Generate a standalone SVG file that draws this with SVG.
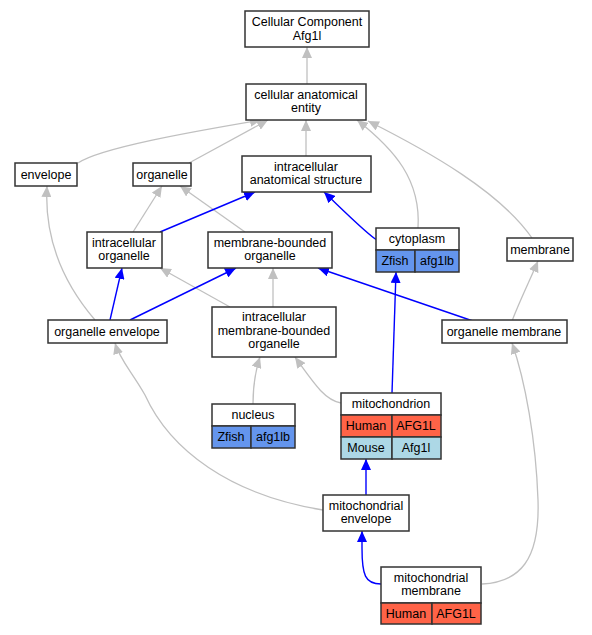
<svg xmlns="http://www.w3.org/2000/svg" width="592" height="635" viewBox="0 0 592 635">
<defs>
<style>
.n rect{fill:#fff;stroke:#333;stroke-width:1.5}
.n rect.z{fill:#6495ED}
.n rect.h{fill:#FF6347}
.n rect.m{fill:#ADD8E6}
text{font-family:"Liberation Sans",Arial,sans-serif;font-size:12.5px;fill:#000;text-anchor:middle}
.g{fill:none;stroke:#c0c0c0;stroke-width:1.3}
.b{fill:none;stroke:#0000ff;stroke-width:1.4}
.g{marker-end:url(#ag)}
.b{marker-end:url(#ab)}
</style>
<marker id="ag" viewBox="0 0 11 10" refX="11" refY="5" markerUnits="userSpaceOnUse" markerWidth="11" markerHeight="10" orient="auto"><path d="M0,0 L11,5 L0,10 z" fill="#c0c0c0"/></marker>
<marker id="ab" viewBox="0 0 11 10" refX="11" refY="5" markerUnits="userSpaceOnUse" markerWidth="11" markerHeight="10" orient="auto"><path d="M0,0 L11,5 L0,10 z" fill="#0000ff"/></marker>
</defs>
<rect width="592" height="635" fill="#fff"/>
<g id="edges">
<path class="g" d="M307,84 L307,47"/>
<path class="g" d="M78,163 C100,148 190,132 261,120"/>
<path class="g" d="M189,163 L268,120"/>
<path class="g" d="M306,156 L306,120"/>
<path class="g" d="M418,228 C421,180 395,150 357,120"/>
<path class="g" d="M532,238 C500,192 430,152 368,121"/>
<path class="g" d="M133,232 L162,186"/>
<path class="g" d="M245,232 L180,186"/>
<path class="g" d="M95,320 C65,285 44,240 47,186"/>
<path class="g" d="M230,307 L160,268"/>
<path class="g" d="M273,307 L273,268"/>
<path class="g" d="M512,321 C520,300 530,280 538,261"/>
<path class="g" d="M253,404 C253,385 255,372 260,357"/>
<path class="g" d="M341,403 C325,400 315,385 295,357"/>
<path class="g" d="M323,510 C230,495 170,450 145,395 C132,372 120,360 115,343"/>
<path class="g" d="M482,584 C520,582 540,560 538,500 C536,440 525,380 512,343"/>
<path class="b" d="M160,232 L255,192"/>
<path class="b" d="M377,240 C368,235 345,212 324,192"/>
<path class="b" d="M110,320 L122,268"/>
<path class="b" d="M130,320 L236,268"/>
<path class="b" d="M473,321 L318,268"/>
<path class="b" d="M392,393 L396,272"/>
<path class="b" d="M366,495 L366,459"/>
<path class="b" d="M381,584 C365,584 362,575 362,548 L362,531"/>
</g>
<g id="n1" class="n"><rect x="245" y="11" width="124" height="36"/><text x="307" y="26">Cellular Component</text><text x="307" y="40">Afg1l</text></g>
<g id="n2" class="n"><rect x="246" y="84" width="120" height="36"/><text x="306" y="99">cellular anatomical</text><text x="306" y="112">entity</text></g>
<g id="n3" class="n"><rect x="15" y="163" width="62" height="23"/><text x="46" y="179">envelope</text></g>
<g id="n4" class="n"><rect x="133" y="163" width="58" height="23"/><text x="162" y="179">organelle</text></g>
<g id="n5" class="n"><rect x="242" y="156" width="129" height="36"/><text x="306" y="171">intracellular</text><text x="306" y="184">anatomical structure</text></g>
<g id="n6" class="n"><rect x="87" y="232" width="75" height="36"/><text x="124" y="247">intracellular</text><text x="124" y="260">organelle</text></g>
<g id="n7" class="n"><rect x="208" y="232" width="124" height="36"/><text x="270" y="247">membrane-bounded</text><text x="270" y="260">organelle</text></g>
<g id="n8" class="n"><rect x="376" y="228" width="83" height="22"/><rect class="z" x="376" y="250" width="39" height="22"/><rect class="z" x="415" y="250" width="44" height="22"/><text x="417" y="243">cytoplasm</text><text x="395" y="265">Zfish</text><text x="437" y="265">afg1lb</text></g>
<g id="n9" class="n"><rect x="507" y="238" width="66" height="23"/><text x="540" y="254">membrane</text></g>
<g id="n10" class="n"><rect x="48" y="320" width="119" height="23"/><text x="107" y="336">organelle envelope</text></g>
<g id="n11" class="n"><rect x="212" y="307" width="124" height="50"/><text x="274" y="321">intracellular</text><text x="274" y="335">membrane-bounded</text><text x="274" y="348">organelle</text></g>
<g id="n12" class="n"><rect x="442" y="320" width="125" height="23"/><text x="504" y="336">organelle membrane</text></g>
<g id="n13" class="n"><rect x="212" y="404" width="83" height="22"/><rect class="z" x="212" y="426" width="39" height="22"/><rect class="z" x="251" y="426" width="44" height="22"/><text x="253" y="419">nucleus</text><text x="231" y="441">Zfish</text><text x="273" y="441">afg1lb</text></g>
<g id="n14" class="n"><rect x="341" y="393" width="100" height="22"/><rect class="h" x="341" y="415" width="51" height="22"/><rect class="h" x="392" y="415" width="49" height="22"/><rect class="m" x="341" y="437" width="51" height="22"/><rect class="m" x="392" y="437" width="49" height="22"/><text x="391" y="408">mitochondrion</text><text x="366" y="430">Human</text><text x="416" y="430">AFG1L</text><text x="366" y="452">Mouse</text><text x="416" y="452">Afg1l</text></g>
<g id="n15" class="n"><rect x="323" y="495" width="86" height="36"/><text x="366" y="510">mitochondrial</text><text x="366" y="523">envelope</text></g>
<g id="n16" class="n"><rect x="381" y="567" width="100" height="36"/><rect class="h" x="381" y="603" width="51" height="21"/><rect class="h" x="432" y="603" width="49" height="21"/><text x="431" y="582">mitochondrial</text><text x="431" y="595">membrane</text><text x="406" y="618">Human</text><text x="456" y="618">AFG1L</text></g>
</svg>
